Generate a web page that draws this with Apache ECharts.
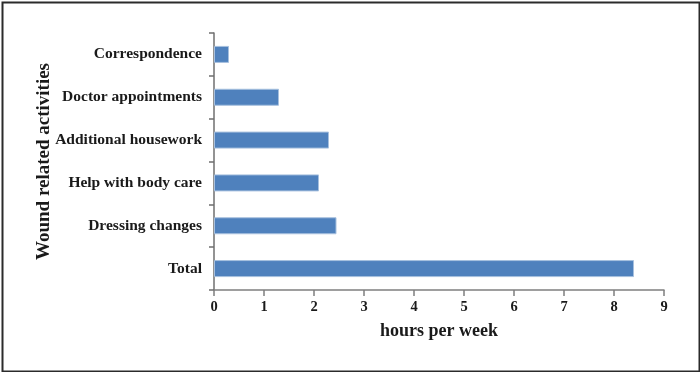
<!DOCTYPE html>
<html>
<head>
<meta charset="utf-8">
<script src="https://cdn.jsdelivr.net/npm/echarts@6/dist/echarts.min.js"></script>
<style>html,body{margin:0;padding:0;background:#fff}#c{width:700px;height:372px}</style>
</head>
<body>
<div id="c"></div>
<script>
const categories = ['Total', 'Dressing changes', 'Help with body care', 'Additional housework', 'Doctor appointments', 'Correspondence'];
const hoursPerWeek = [8.4, 2.45, 2.1, 2.3, 1.3, 0.3];
const xTicks = [0, 1, 2, 3, 4, 5, 6, 7, 8, 9];

const font = '"Liberation Serif", "Times New Roman", serif';
const chart = echarts.init(document.getElementById('c'), null, {renderer: 'canvas'});
chart.setOption({
  animation: false,
  backgroundColor: '#fff',
  graphic: [{
    type: 'rect', left: 0, top: 0, silent: true,
    shape: {x: 1, y: 1, width: 697, height: 369},
    style: {fill: 'none', stroke: '#2b2b2b', lineWidth: 2}
  }],
  grid: {left: 214, right: 36, top: 33, height: 257, containLabel: false},
  xAxis: {
    type: 'value', min: xTicks[0], max: xTicks[xTicks.length - 1], interval: 1,
    name: 'hours per week', nameLocation: 'middle', nameGap: 32, nameMoveOverlap: false,
    nameTextStyle: {fontFamily: font, fontWeight: 'bold', fontSize: 18, color: '#1a1a1a'},
    axisLine: {show: true, lineStyle: {color: '#7f7f7f', width: 1.5}},
    axisTick: {show: true, length: 6, lineStyle: {color: '#7f7f7f', width: 1.5}},
    axisLabel: {fontFamily: font, fontWeight: 'bold', fontSize: 14.5, color: '#1a1a1a', margin: 10},
    splitLine: {show: false}
  },
  yAxis: {
    type: 'category', data: categories,
    name: 'Wound related activities', nameLocation: 'middle', nameGap: 160, nameRotate: 90, nameMoveOverlap: false,
    nameTextStyle: {fontFamily: font, fontWeight: 'bold', fontSize: 19, color: '#1a1a1a'},
    axisLine: {show: true, lineStyle: {color: '#6f6f6f', width: 1.5}},
    axisTick: {show: true, length: 5, lineStyle: {color: '#6f6f6f', width: 1.5}},
    axisLabel: {fontFamily: font, fontWeight: 'bold', fontSize: 15.5, color: '#1a1a1a', margin: 12}
  },
  series: [{
    type: 'bar', data: hoursPerWeek, barWidth: 17,
    itemStyle: {color: '#4F81BD', borderColor: '#A7C0DE', borderWidth: 1}
  }]
});
</script>
</body>
</html>
